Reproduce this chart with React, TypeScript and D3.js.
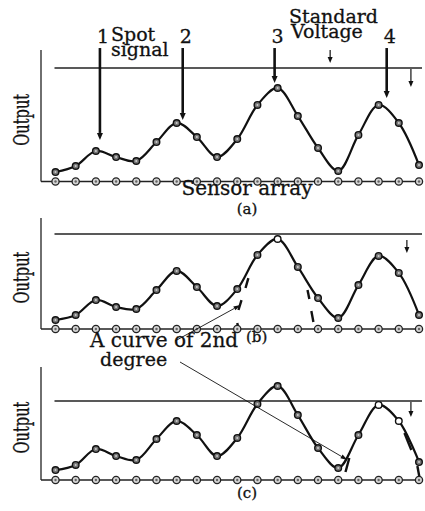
import React from 'react';
import * as d3 from 'd3';

// sensor positions along the array
const sensors = [0, 1, 2, 3, 4, 5, 6, 7, 8, 9, 10, 11, 12, 13, 14, 15, 16, 17, 18];

// output of each sensor (0..100 = axis height)
const outputA = [7.2, 11.8, 23.2, 18.6, 15.6, 30, 44.5, 33.8, 18.6, 32.3, 58.2, 71.1, 49.8, 25.5, 8, 35.4, 58.2, 44.5, 12.5];
const outputB = [8.1, 12.6, 26.1, 19.8, 18, 35.1, 52.3, 37.8, 20.7, 36, 66.7, 81.1, 55.9, 27.9, 9.9, 39.6, 65.8, 50.5, 12.6];
const outputC = [8.8, 13.3, 27.4, 21.2, 17.7, 36.3, 52.2, 39.8, 21.2, 37.2, 67.3, 83.2, 57.5, 28.3, 10.6, 39.8, 66.4, 52.2, 15.9];

// sensors drawn as open circles
const openA: number[] = [];
const openB = [11];
const openC = [16, 17];

// standard voltage level per panel
const standardLevels = [86.3, 85.6, 69.9];

// dashed "curve of 2nd degree" pieces [sensor1, value1, sensor2, value2]
const dashA: number[][] = [];
const dashB = [[9.55, 45.9, 9.41, 36.9], [9.21, 26.1, 9.06, 17.1], [12.48, 35.1, 12.57, 27], [12.67, 16.2, 12.77, 6.3], [9.0, 5.4, 9.06, 0.5]];
const dashC = [[14.36, 7.1, 14.55, 19.5], [17.28, 41.6, 17.62, 26.5], [17.92, 12.4, 18.02, 2.7]];

// spot signal arrows in (a)
const spotLabels = ['1', '2', '3', '4'];
const spotPos = [2.2, 6.3, 10.85, 16.4];
const spotTip = [31.6, 46.8, 74.9, 63.5];
const spotTail = 101.5;

// small down arrows [sensor, from, to]
const smallA = [[13.6, 100, 90.1], [17.6, 85.6, 71.9]];
const smallB = [[17.4, 80.2, 68.5]];
const smallC = [[17.6, 69, 55.8]];

// annotation arrow targets [sensor, value]
const noteB = [9.16, 21.6];
const noteC = [14.46, 17.7];

const FONT = '"DejaVu Serif", serif';
const INK = '#111';

const x = d3.scaleLinear().domain([0, 18]).range([55.5, 419]);

function arrow(x1: number, y1: number, x2: number, y2: number, len: number, half: number, sw: number, key: string) {
  const a = Math.atan2(y2 - y1, x2 - x1);
  const bx = x2 - len * Math.cos(a);
  const by = y2 - len * Math.sin(a);
  const px = -Math.sin(a) * half;
  const py = Math.cos(a) * half;
  return (
    <g key={key}>
      <line x1={x1} y1={y1} x2={bx} y2={by} stroke={INK} strokeWidth={sw} />
      <path d={`M${x2},${y2}L${bx + px},${by + py}L${bx - px},${by - py}Z`} fill={INK} />
    </g>
  );
}

// heavier print look for the labels
const T = (props: any) => (
  <text fontFamily={FONT} fill={INK} stroke={INK} strokeWidth={0.3} {...props} />
);

const Panel = ({ values, open, std, dashes, smalls, top, base, label, labelY }: any) => {
  const y = d3.scaleLinear().domain([0, 100]).range([base, top]);
  const line = d3.line<number>()
    .x((_, i) => x(sensors[i]))
    .y(d => y(d))
    .curve(d3.curveCatmullRom.alpha(0.5));
  const mid = (top + base) / 2;
  return (
    <g>
      <line x1={41} y1={y(0)} x2={41} y2={y(100)} stroke="#222" strokeWidth={1.3} />
      <line x1={41} y1={y(0)} x2={x(18) + 3} y2={y(0)} stroke="#222" strokeWidth={1.5} />
      <line x1={x(0) - 1} y1={y(std)} x2={x(18) + 3} y2={y(std)} stroke="#222" strokeWidth={1.4} />
      <path d={line(values) || ''} fill="none" stroke={INK} strokeWidth={2.2} />
      {dashes.map((d: number[], i: number) => (
        <line key={'d' + i} x1={x(d[0])} y1={y(d[1])} x2={x(d[2])} y2={y(d[3])} stroke={INK} strokeWidth={2.4} />
      ))}
      {smalls.map((s: number[], i: number) => arrow(x(s[0]), y(s[1]), x(s[0]), y(s[2]), 6, 2.5, 1.2, 's' + i))}
      {sensors.map(s => (
        <g key={'b' + s}>
          <circle cx={x(s)} cy={y(0)} r={3.6} fill="#d4d4d4" stroke="#222" strokeWidth={1.3} />
          <circle cx={x(s)} cy={y(0)} r={1.2} fill="#666" />
        </g>
      ))}
      {values.map((v: number, i: number) => (
        <g key={'p' + i}>
          <circle cx={x(sensors[i])} cy={y(v)} r={3.3}
            fill={open.includes(i) ? '#fff' : '#777'} stroke={INK} strokeWidth={1.4} />
          {!open.includes(i) && <circle cx={x(sensors[i])} cy={y(v)} r={1} fill="#ccc" />}
        </g>
      ))}
      <T transform={`translate(29,${mid + 4}) rotate(-90)`} textAnchor="middle"
        fontSize={22} textLength={52} lengthAdjust="spacingAndGlyphs">Output</T>
      {label && (
        <T x={247} y={labelY} textAnchor="middle" fontSize={15}>{label}</T>
      )}
    </g>
  );
};

export default function App() {
  const yA = d3.scaleLinear().domain([0, 100]).range([181.5, 50]);
  const yB = d3.scaleLinear().domain([0, 100]).range([329, 218]);
  const yC = d3.scaleLinear().domain([0, 100]).range([480, 367]);
  return (
    <svg width={425} height={511} style={{ position: 'absolute', left: 0, top: 0, background: '#fff' }}>
      <Panel values={outputA} open={openA} std={standardLevels[0]} dashes={dashA} smalls={smallA}
        top={50} base={181.5} label="(a)" labelY={214} />
      <Panel values={outputB} open={openB} std={standardLevels[1]} dashes={dashB} smalls={smallB}
        top={218} base={329} />
      <Panel values={outputC} open={openC} std={standardLevels[2]} dashes={dashC} smalls={smallC}
        top={367} base={480} label="(c)" labelY={498} />

      {/* spot signal arrows */}
      {spotLabels.map((l, i) => (
        <g key={'spot' + i}>
          {arrow(x(spotPos[i]), yA(spotTail), x(spotPos[i]), yA(spotTip[i]), 7, 3, 2.6, 'sa' + i)}
          <T x={x(spotPos[i]) + 3} y={43} textAnchor="middle" fontSize={19}>{l}</T>
        </g>
      ))}
      <T x={111} y={41} fontSize={19}>Spot</T>
      <T x={111} y={56} fontSize={19}>signal</T>
      <T x={289} y={23} fontSize={19}>Standard</T>
      <T x={291} y={38} fontSize={19}>Voltage</T>
      <T x={247} y={195} textAnchor="middle" fontSize={20}>Sensor array</T>

      {/* curve of 2nd degree note */}
      <T x={90} y={347} fontSize={20}>A curve of 2nd</T>
      <T x={246} y={342} fontSize={15}>(b)</T>
      <T x={100} y={366} fontSize={19}>degree</T>
      {arrow(175, 341, x(noteB[0]), yB(noteB[1]), 7, 2.2, 0.9, 'nb')}
      {arrow(180, 362, x(noteC[0]), yC(noteC[1]), 7, 2.2, 0.9, 'nc')}
    </svg>
  );
}
